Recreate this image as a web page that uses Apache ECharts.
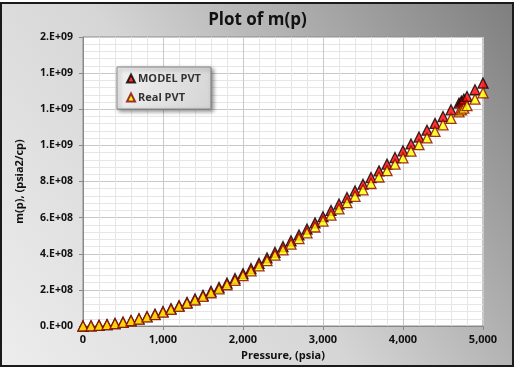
<!DOCTYPE html>
<html>
<head>
<meta charset="utf-8">
<script src="https://cdn.jsdelivr.net/npm/echarts@6/dist/echarts.min.js"></script>
<style>
html,body{margin:0;padding:0;background:#fff;}
#chart{width:515px;height:370px;}
</style>
</head>
<body>
<div id="chart"></div>
<script>
// ---- data ----
var pressure = [0,100,200,300,400,500,600,700,800,900,1000,1100,1200,1300,1400,1500,1600,1700,1800,1900,2000,2100,2200,2300,2400,2500,2600,2700,2800,2900,3000,3100,3200,3300,3400,3500,3600,3700,3800,3900,4000,4100,4200,4300,4400,4500,4600,4700,4730,4760,4800,4900,5000];
var modelPVT = [0,0.009e8,0.034e8,0.077e8,0.135e8,0.21e8,0.30e8,0.40e8,0.52e8,0.655e8,0.80e8,0.96e8,1.13e8,1.31e8,1.50e8,1.70e8,1.92e8,2.14e8,2.38e8,2.63e8,2.90e8,3.18e8,3.47e8,3.77e8,4.08e8,4.40e8,4.72e8,5.04e8,5.37e8,5.71e8,6.05e8,6.40e8,6.75e8,7.11e8,7.48e8,7.85e8,8.22e8,8.59e8,8.96e8,9.33e8,9.70e8,10.08e8,10.46e8,10.84e8,11.22e8,11.60e8,11.97e8,12.34e8,12.45e8,12.56e8,12.71e8,13.08e8,13.45e8];
var realPVT = [0,0.009e8,0.033e8,0.074e8,0.13e8,0.20e8,0.29e8,0.385e8,0.50e8,0.63e8,0.77e8,0.92e8,1.085e8,1.26e8,1.44e8,1.635e8,1.84e8,2.055e8,2.285e8,2.525e8,2.785e8,3.05e8,3.33e8,3.62e8,3.92e8,4.22e8,4.53e8,4.84e8,5.16e8,5.48e8,5.81e8,6.14e8,6.48e8,6.83e8,7.18e8,7.54e8,7.89e8,8.25e8,8.60e8,8.96e8,9.31e8,9.68e8,10.04e8,10.41e8,10.77e8,11.14e8,11.49e8,11.85e8,11.96e8,12.06e8,12.20e8,12.56e8,12.91e8];
var seriesNames = ['MODEL PVT','Real PVT'];
var yTickLabels = ['0.E+00','2.E+08','4.E+08','6.E+08','8.E+08','1.E+09','1.E+09','1.E+09','2.E+09'];
var xTickLabels = ['0','1,000','2,000','3,000','4,000','5,000'];

function zip(xs, ys){ var out=[]; for(var i=0;i<xs.length;i++){ out.push([xs[i], ys[i]]); } return out; }

var FONT = 'Open Sans';
var chart = echarts.init(document.getElementById('chart'));
chart.setOption({
  animation:false,
  backgroundColor:'transparent',
  graphic:[{
    type:'rect', z:-10, silent:true,
    shape:{x:1,y:3,width:512,height:363},
    style:{
      fill:new echarts.graphic.LinearGradient(0,1,1,0,[
        {offset:0,color:'#ededed'},
        {offset:0.45,color:'#d6d6d6'},
        {offset:1,color:'#7e7e7e'}
      ]),
      stroke:'#1a1a1a', lineWidth:2
    }
  }],
  title:{
    text:'Plot of m(p)', left:'center', top:7,
    textStyle:{fontFamily:FONT,fontSize:17,fontWeight:'bold',color:'#111'}
  },
  legend:{
    orient:'vertical', left:117, top:67,
    padding:[6,10,6,9], itemGap:8,
    itemWidth:8, itemHeight:8,
    backgroundColor:new echarts.graphic.LinearGradient(0,0,1,1,[
      {offset:0,color:'#f2f2f2'},{offset:1,color:'#d4d4d4'}
    ]),
    borderColor:'#8a8a8a', borderWidth:1,
    shadowBlur:4, shadowColor:'rgba(0,0,0,0.45)', shadowOffsetX:2, shadowOffsetY:2,
    textStyle:{fontFamily:FONT,fontSize:11,fontWeight:'bold',color:'#333',padding:[0,0,0,-2]},
    data:[{name:seriesNames[0],icon:'triangle'},{name:seriesNames[1],icon:'triangle'}]
  },
  grid:{left:83,right:32,top:37,bottom:44,show:true,backgroundColor:'#ffffff',borderColor:'#8c8c8c',borderWidth:1},
  xAxis:{
    type:'value', min:0, max:5000, interval:1000,
    name:'Pressure, (psia)', nameLocation:'middle', nameGap:22,
    nameTextStyle:{fontFamily:FONT,fontSize:11,fontWeight:'bold',color:'#111'},
    axisLine:{show:true,lineStyle:{color:'#888'}},
    axisTick:{show:true,length:4,lineStyle:{color:'#888'}},
    axisLabel:{fontFamily:FONT,fontSize:11,fontWeight:'bold',color:'#111',margin:8,
      formatter:function(v){ return xTickLabels[Math.round(v/1000)]; }},
    splitLine:{show:true,lineStyle:{color:'#c8c8c8'}},
    minorTick:{show:false,splitNumber:5},
    minorSplitLine:{show:true,lineStyle:{color:'#e6e6e6'}}
  },
  yAxis:{
    type:'value', min:0, max:1.6e9, interval:2e8,
    name:'m(p), (psia2/cp)', nameLocation:'middle', nameGap:58, nameRotate:90,
    nameTextStyle:{fontFamily:FONT,fontSize:11,fontWeight:'bold',color:'#111'},
    axisLine:{show:true,lineStyle:{color:'#888'}},
    axisTick:{show:true,length:4,lineStyle:{color:'#888'}},
    axisLabel:{fontFamily:FONT,fontSize:10.5,fontWeight:'bold',color:'#111',margin:10,
      formatter:function(v){ return yTickLabels[Math.round(v/2e8)]; }},
    splitLine:{show:true,lineStyle:{color:'#c8c8c8'}},
    minorTick:{show:false,splitNumber:5},
    minorSplitLine:{show:true,lineStyle:{color:'#e6e6e6'}}
  },
  series:[
    {name:seriesNames[0], type:'scatter', symbol:'triangle', symbolSize:10,
     itemStyle:{color:'#ff0000',borderColor:'#000000',borderWidth:1.3},
     data:zip(pressure, modelPVT)},
    {name:seriesNames[1], type:'scatter', symbol:'triangle', symbolSize:10,
     itemStyle:{color:'#ffff00',borderColor:'#8b0000',borderWidth:1.3},
     data:zip(pressure, realPVT)}
  ]
});
</script>
</body>
</html>
